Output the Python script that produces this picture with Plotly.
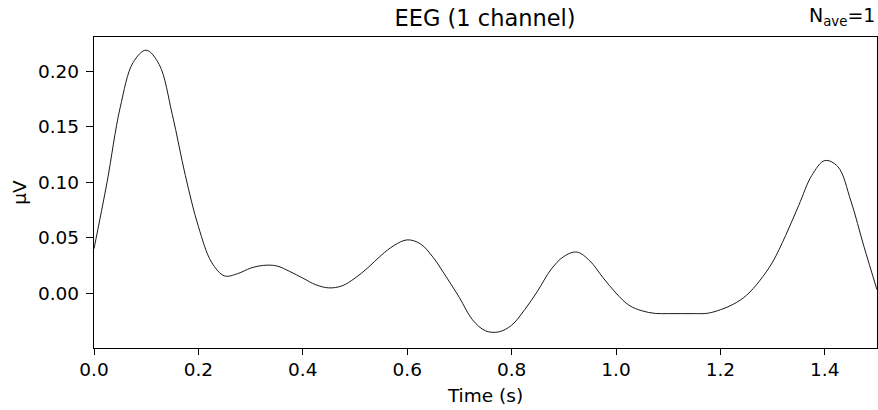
import plotly.graph_objects as go

# Time (s) and amplitude (µV)
time_s = [0.000, 0.025, 0.050, 0.075, 0.100, 0.125, 0.150, 0.175, 0.200, 0.225,
          0.250, 0.275, 0.300, 0.325, 0.350, 0.375, 0.400, 0.425, 0.450, 0.475,
          0.500, 0.525, 0.550, 0.575, 0.600, 0.625, 0.650, 0.675, 0.700, 0.725,
          0.750, 0.775, 0.800, 0.825, 0.850, 0.875, 0.900, 0.925, 0.950, 0.975,
          1.000, 1.025, 1.050, 1.075, 1.100, 1.125, 1.150, 1.175, 1.200, 1.225,
          1.250, 1.275, 1.300, 1.325, 1.350, 1.375, 1.400, 1.425, 1.450, 1.475,
          1.500]
amp_uv = [0.040, 0.100, 0.167, 0.208, 0.219, 0.206, 0.161, 0.106, 0.060, 0.028,
          0.0155, 0.0175, 0.0225, 0.025, 0.0245, 0.0195, 0.0135, 0.0075, 0.0047, 0.0065,
          0.0135, 0.023, 0.034, 0.043, 0.048, 0.0445, 0.032, 0.0145, -0.004, -0.024,
          -0.034, -0.035, -0.029, -0.015, 0.002, 0.021, 0.033, 0.037, 0.029, 0.014,
          0.000, -0.011, -0.0160, -0.0183, -0.0185, -0.0185, -0.0185, -0.0182, -0.015, -0.010,
          -0.002, 0.011, 0.028, 0.052, 0.079, 0.106, 0.1195, 0.114, 0.083, 0.042,
          0.003]

x_ticks = [0.0, 0.2, 0.4, 0.6, 0.8, 1.0, 1.2, 1.4]
y_ticks = [0.00, 0.05, 0.10, 0.15, 0.20]

FONT = "DejaVu Sans"
TICK_SIZE = 18.5

fig = go.Figure()
fig.add_trace(go.Scatter(
    x=time_s, y=amp_uv, mode="lines",
    line=dict(color="#1a1a1a", width=1, shape="spline", smoothing=1.0),
    hoverinfo="skip", showlegend=False,
))

axis_common = dict(
    showline=True, linecolor="black", linewidth=1.4, mirror=True,
    showgrid=False, zeroline=False,
    ticks="outside", tickwidth=1.4, tickcolor="black",
    tickfont=dict(family=FONT, size=TICK_SIZE, color="black"),
)

fig.update_layout(
    width=878, height=410,
    margin=dict(l=94, r=1, t=37, b=62),
    paper_bgcolor="white", plot_bgcolor="white",
    font=dict(family=FONT, color="black"),
    title=dict(text="EEG (1 channel)", x=0.5525, xanchor="center",
               y=1 - 18 / 410, yanchor="middle",
               font=dict(family=FONT, size=22.5, color="black")),
    xaxis=dict(range=[0, 1.5], tickvals=x_ticks, tickformat=".1f",
               ticklen=6, ticklabelstandoff=-1,
               title=dict(text="Time (s)", font=dict(family=FONT, size=TICK_SIZE, color="black"), standoff=9),
               **axis_common),
    yaxis=dict(range=[-0.0495, 0.2309], tickvals=y_ticks, tickformat=".2f",
               ticklen=7, ticklabelstandoff=3,
               title=dict(text="µV", font=dict(family=FONT, size=TICK_SIZE, color="black"), standoff=6),
               **axis_common),
    annotations=[dict(
        text="N<sub>ave</sub>=1", xref="paper", yref="paper",
        x=1, y=1, xanchor="right", yanchor="bottom", yshift=6, showarrow=False,
        font=dict(family=FONT, size=19, color="black"),
    )],
)

fig.write_html("out.html")
